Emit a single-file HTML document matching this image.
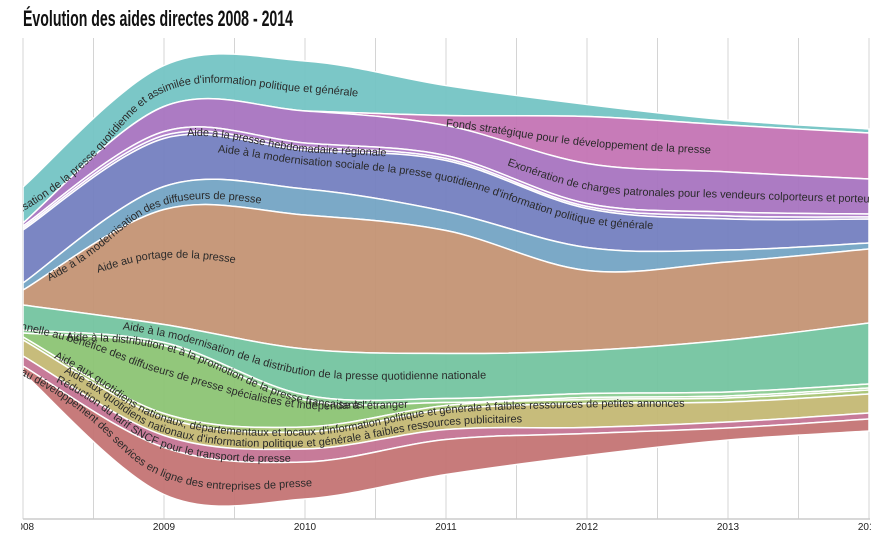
<!DOCTYPE html>
<html><head><meta charset="utf-8"><style>
html,body{margin:0;padding:0;background:#fff;}
svg{display:block;font-family:"Liberation Sans",sans-serif;}
</style></head><body>
<svg id="chart" width="886" height="552" viewBox="0 0 886 552">
  <defs>
    <clipPath id="plotClip"><rect x="23" y="30" width="847" height="490"/></clipPath>
    <clipPath id="axisClip"><rect x="21" y="520" width="850" height="30"/></clipPath>
  </defs>
  <text x="23" y="26" font-family="'Liberation Sans Narrow','Liberation Sans',sans-serif" font-weight="bold" font-size="22" fill="#111" textLength="270" lengthAdjust="spacingAndGlyphs">Évolution des aides directes 2008 - 2014</text>
  <g id="grid"></g>
  <g id="layers" clip-path="url(#plotClip)"></g>
  <g id="labels" clip-path="url(#plotClip)"></g>
  <line x1="23" y1="519" x2="870" y2="519" stroke="#ccc" stroke-width="1.5"/>
  <g id="xaxis" clip-path="url(#axisClip)"></g>
</svg>
<script>
const years = ["2008","2009","2010","2011","2012","2013","2014"];
const names = [
 "Aide à la modernisation de la presse quotidienne et assimilée d'information politique et générale",
 "Fonds stratégique pour le développement de la presse",
 "Exonération de charges patronales pour les vendeurs colporteurs et porteurs",
 "Aide à la presse hebdomadaire régionale",
 "Aide aux publications nationales",
 "Aide à la modernisation sociale de la presse quotidienne d'information politique et générale",
 "Aide à la modernisation des diffuseurs de presse",
 "Aide au portage de la presse",
 "Aide à la modernisation de la distribution de la presse quotidienne nationale",
 "Aide à la distribution et à la promotion de la presse française à l'étranger",
 "Aide exceptionnelle au bénéfice des diffuseurs de presse spécialistes et indépendants",
 "Aide aux quotidiens nationaux, départementaux et locaux d'information politique et générale à faibles ressources de petites annonces",
 "Aide aux quotidiens nationaux d'information politique et générale à faibles ressources publicitaires",
 "Réduction du tarif SNCF pour le transport de presse",
 "Aide au développement des services en ligne des entreprises de presse"
];
const sTeal   = [36,41,50,30,12,5,4];
const sFonds  = [0,0,0,10,47,47,46];
const sExon   = [3,25,32,30,40,40,35];
const sHebdo  = [2,4,4,3,3,4,3];
const sPubNat = [2,3,3,2,2,3,2];
const sSocial = [53,48,39,51,39,31,24];
const sDiff   = [7,23,26,19,23,12,6];
const sPortage= [15,115,134,123,80,78,74];
const sDistQN = [25,18,46,45,43,52,61];
const sEtr    = [3,3,5,4,4,4,4];
const sExcep  = [4,68,27,3,2,2,2];
const sPA     = [3,4,5,4,4,4,4];
const sPub    = [16,18,17,20,24,20,19];
const sSNCF   = [10,12,13,10,6,6,6];
const sLigne  = [7,47,37,35,22,12,12];
const series = [sTeal,sFonds,sExon,sHebdo,sPubNat,sSocial,sDiff,sPortage,sDistQN,sEtr,sExcep,sPA,sPub,sSNCF,sLigne];
const colors = ["#74c4c4","#c474b4","#a874c0","#b07cc8","#9a7cc4","#7480c0","#74a4c4","#c49474","#74c4a0","#8ccc94","#8cc474","#a8c474","#c4b874","#c47494","#c47474"];
const labelPos = [["end",358,3],["start",446,3],["start",508,3],["start",187,4],null,["start",218,-8],["start",48,4],["start",97,-12],["start",123,0],["start",66,3],["end",363,-8],["start",55,3],["start",65,3],["start",57,3],["end",312,3]];

const NS="http://www.w3.org/2000/svg";
const X0=23, STEP=141, CENTER=280, K=1;
function xs(i){return X0+i*STEP;}
function ys(v){return v*K;}

const grid=document.getElementById('grid');
for(let j=0;j<=12;j++){
  const l=document.createElementNS(NS,'line');
  const gx=X0+j*STEP/2;
  l.setAttribute('x1',gx);l.setAttribute('x2',gx);l.setAttribute('y1',38);l.setAttribute('y2',519);
  l.setAttribute('stroke','#d4d4d4');l.setAttribute('stroke-width','1');
  
  
  grid.appendChild(l);
}
const xaxis=document.getElementById('xaxis');
years.forEach((y,i)=>{
  const t=document.createElementNS(NS,'text');
  t.setAttribute('x',xs(i));t.setAttribute('y',530);t.setAttribute('text-anchor','middle');
  t.setAttribute('font-size','10');t.setAttribute('fill','#222');
  t.textContent=y;
  
  
  xaxis.appendChild(t);
});

const n=years.length;
const totals=[];for(let i=0;i<n;i++){let s=0;series.forEach(a=>s+=a[i]);totals.push(s);}
let cur=totals.map(t=>CENTER-ys(t)/2);
const tops=[],bots=[];
series.forEach(a=>{const t=cur.slice();const b=cur.map((c,i)=>c+ys(a[i]));tops.push(t);bots.push(b);cur=b;});

function crPath(pts,move){
  let d=(move?"M":"L")+pts[0][0]+","+pts[0][1];
  for(let i=0;i<pts.length-1;i++){
    const p0=pts[Math.max(0,i-1)],p1=pts[i],p2=pts[i+1],p3=pts[Math.min(pts.length-1,i+2)];
    const c1=[p1[0]+(p2[0]-p0[0])/6,p1[1]+(p2[1]-p0[1])/6];
    const c2=[p2[0]-(p3[0]-p1[0])/6,p2[1]-(p3[1]-p1[1])/6];
    d+="C"+c1[0]+","+c1[1]+" "+c2[0]+","+c2[1]+" "+p2[0]+","+p2[1];
  }
  return d;
}
const layers=document.getElementById('layers');
const labels=document.getElementById('labels');
const defs=document.querySelector('defs');
series.forEach((a,k)=>{
  const top=tops[k].map((y,i)=>[xs(i),y]);
  const bot=bots[k].map((y,i)=>[xs(i),y]).reverse();
  const p=document.createElementNS(NS,'path');
  p.setAttribute('d',crPath(top,true)+crPath(bot,false)+"Z");
  p.setAttribute('fill',colors[k]);p.setAttribute('fill-opacity','0.95');
  p.setAttribute('stroke','#fff');p.setAttribute('stroke-width','1.5');
  
  
  const ti=document.createElementNS(NS,'title');ti.textContent=names[k];p.appendChild(ti);
  layers.appendChild(p);
  const lp=labelPos[k]; if(!lp) return;
  const mid=tops[k].map((y,i)=>[xs(i),(y+bots[k][i])/2+lp[2]]);
  const ext=[[xs(0)-400,mid[0][1]+(mid[0][1]-mid[1][1])*400/STEP*0.6]].concat(mid);
  const cp=document.createElementNS(NS,'path');
  cp.setAttribute('id','lp'+k);cp.setAttribute('d',crPath(ext,true));
  defs.appendChild(cp);
  let lo=0,hi=cp.getTotalLength();
  for(let it=0;it<40;it++){const m=(lo+hi)/2;if(cp.getPointAtLength(m).x<lp[1])lo=m;else hi=m;}
  const t=document.createElementNS(NS,'text');
  t.setAttribute('font-size','11');t.setAttribute('fill','#2a2a2a');
  t.setAttribute('dominant-baseline','middle');
  
  
  const tp=document.createElementNS(NS,'textPath');
  tp.setAttribute('href','#lp'+k);
  tp.setAttribute('startOffset',lo);
  tp.setAttribute('text-anchor',lp[0]);
  tp.textContent=names[k];
  t.appendChild(tp);labels.appendChild(t);
});
</script>
</body></html>
